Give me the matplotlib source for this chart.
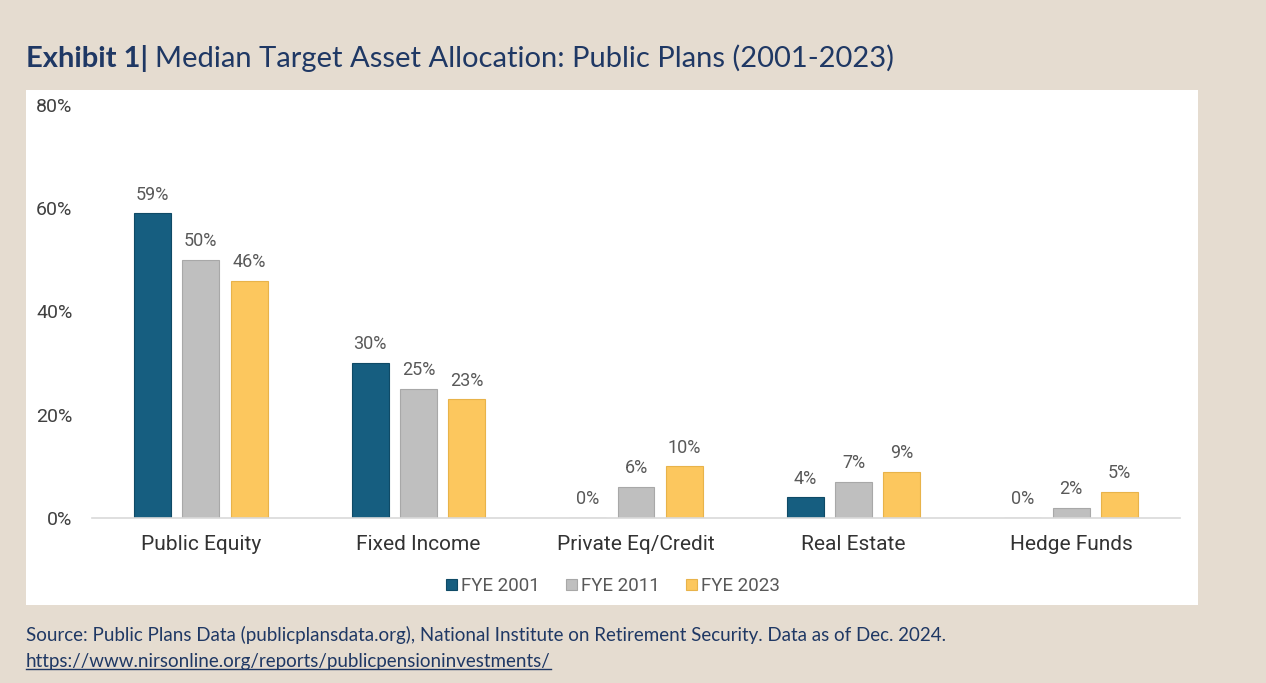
import numpy as np
import matplotlib.pyplot as plt
from matplotlib.patches import Rectangle
from matplotlib.lines import Line2D

categories = ["Public Equity", "Fixed Income", "Private Eq/Credit", "Real Estate", "Hedge Funds"]
series_names = ["FYE 2001", "FYE 2011", "FYE 2023"]
fye2001 = [59, 30, 0, 4, 0]
fye2011 = [50, 25, 6, 7, 2]
fye2023 = [46, 23, 10, 9, 5]
y_ticks = [0, 20, 40, 60, 80]

colors = ["#165E80", "#BFBFBF", "#FCC75E"]
edges = ["#0F4A66", "#A8A8A8", "#E8B34A"]
navy = "#1F3864"

fig = plt.figure(figsize=(12.66, 6.83), dpi=100)
fig.patch.set_facecolor("#E5DCD0")

# white panel behind the chart
fig.patches.append(Rectangle((26 / 1266, 1 - 605 / 683), (1198 - 26) / 1266, (605 - 90) / 683,
                             transform=fig.transFigure, facecolor="white", edgecolor="none", zorder=-5))

ax = fig.add_axes([92 / 1266, 1 - 518 / 683, 1088 / 1266, (518 - 105) / 683])
ax.set_facecolor("none")
ax.set_zorder(1)

x = np.arange(len(categories))
step = 0.222
width = 0.17
for i, (vals, name) in enumerate(zip([fye2001, fye2011, fye2023], series_names)):
    xs = x + (i - 1) * step
    ax.bar(xs, vals, width, color=colors[i], edgecolor=edges[i], linewidth=0.8, label=name, zorder=2)
    for xi, v in zip(xs, vals):
        ax.annotate(f"{v}%", (xi, v), xytext=(0, 7), textcoords="offset points",
                    ha="center", va="bottom", fontsize=13, color="#595959", family="Roboto")

ax.set_xlim(-0.5, 4.5)
ax.set_ylim(0, 80)
ax.set_yticks(y_ticks)
ax.set_yticklabels([f"{t}%" for t in y_ticks], family="Roboto", fontsize=14, color="#404040")
ax.set_xticks(x)
ax.set_xticklabels(categories, family="Roboto", fontsize=15, color="#333333")
ax.tick_params(axis="y", length=0, pad=14)
ax.tick_params(axis="x", length=0, pad=12)
for s in ["top", "right", "left"]:
    ax.spines[s].set_visible(False)
ax.spines["bottom"].set_color("#D9D9D9")
ax.spines["bottom"].set_linewidth(1.2)

leg = ax.legend(loc="center", bbox_to_anchor=(0.479, -0.165), ncol=3, frameon=False,
                prop={"family": "Roboto", "size": 13.5}, handlelength=0.55, handleheight=0.55,
                handletextpad=0.25, columnspacing=1.4)
for t in leg.get_texts():
    t.set_color("#595959")

# title in two parts: bold + regular
t1 = fig.text(26 / 1266, 1 - 58 / 683, "Exhibit 1|", fontsize=21, fontweight="bold",
              color=navy, family="Lato", va="center", ha="left")
fig.canvas.draw()
r = fig.canvas.get_renderer()
bb = t1.get_window_extent(r)
fig.text(bb.x1 / 1266 + 7 / 1266, 1 - 58 / 683, "Median Target Asset Allocation: Public Plans (2001-2023)",
         fontsize=21, color=navy, family="Lato", va="center", ha="left")

fig.text(26 / 1266, 1 - 635 / 683,
         "Source: Public Plans Data (publicplansdata.org), National Institute on Retirement Security. Data as of Dec. 2024.",
         fontsize=13.5, color=navy, family="Lato", va="center", ha="left")
link = fig.text(26 / 1266, 1 - 662 / 683, "https://www.nirsonline.org/reports/publicpensioninvestments/",
                fontsize=13.5, color=navy, family="Lato", va="center", ha="left")
fig.canvas.draw()
lb = link.get_window_extent(fig.canvas.get_renderer())
uy = (lb.y0 + 2) / 683
fig.lines.append(Line2D([lb.x0 / 1266, lb.x1 / 1266], [uy, uy], transform=fig.transFigure,
                        color=navy, linewidth=1))

fig.savefig("out.png", dpi=100, facecolor=fig.get_facecolor())
